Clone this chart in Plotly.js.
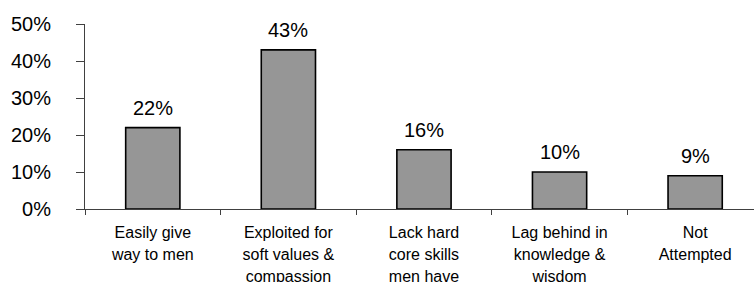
<!DOCTYPE html>
<html>
<head>
<meta charset="utf-8">
<script src="https://cdn.plot.ly/plotly-3.0.1.min.js"></script>
<style>html,body{margin:0;padding:0;background:#fff;}#chart{width:754px;height:282px;}</style>
</head>
<body>
<div id="chart"></div>
<script>
var categories = [
  "Easily give<br>way to men",
  "Exploited for<br>soft values &<br>compassion",
  "Lack hard<br>core skills<br>men have",
  "Lag behind in<br>knowledge &<br>wisdom",
  "Not<br>Attempted"
];
var values = [22, 43, 16, 10, 9];
var valueLabels = ["22%", "43%", "16%", "10%", "9%"];
var yTickValues = [0, 10, 20, 30, 40, 50];
var yTickLabels = ["0%", "10%", "20%", "30%", "40%", "50%"];

var font = "Arial, 'Liberation Sans', sans-serif";

var trace = {
  type: "bar",
  x: categories,
  y: values,
  width: 0.4,
  marker: { color: "#969696", line: { color: "#000000", width: 1.6 } },
  hoverinfo: "none"
};

var annotations = categories.map(function (c, i) {
  return {
    x: c, y: values[i], xref: "x", yref: "y",
    text: valueLabels[i], showarrow: false,
    yanchor: "bottom", yshift: 7,
    font: { family: font, size: 20, color: "#000" }
  };
});

var layout = {
  width: 754, height: 282,
  margin: { l: 85, r: 0, t: 24, b: 73 },
  paper_bgcolor: "#fff", plot_bgcolor: "#fff",
  showlegend: false,
  annotations: annotations,
  xaxis: {
    type: "category",
    range: [-0.5, 4.434],
    showline: true, linecolor: "#404040", linewidth: 1,
    ticks: "outside", tickson: "boundaries", ticklen: 5, tickcolor: "#404040", tickwidth: 1,
    showgrid: false, zeroline: false,
    tickangle: 0,
    ticklabelstandoff: 9,
    tickfont: { family: font, size: 16, color: "#000" }
  },
  yaxis: {
    range: [0, 50],
    tickmode: "array",
    tickvals: yTickValues,
    ticktext: yTickLabels,
    showline: true, linecolor: "#404040", linewidth: 1,
    ticks: "outside", ticklen: 8, tickcolor: "#404040", tickwidth: 1,
    showgrid: false, zeroline: false,
    ticklabelstandoff: 21,
    tickfont: { family: font, size: 20, color: "#000" }
  }
};

Plotly.newPlot("chart", [trace], layout, { staticPlot: true, displayModeBar: false }).then(function () {
  document.querySelectorAll("#chart .xtick text").forEach(function (t) {
    var lines = t.querySelectorAll("tspan.line");
    lines.forEach(function (ln, i) { ln.setAttribute("dy", (i * 1.375) + "em"); });
  });
});
</script>
</body>
</html>
